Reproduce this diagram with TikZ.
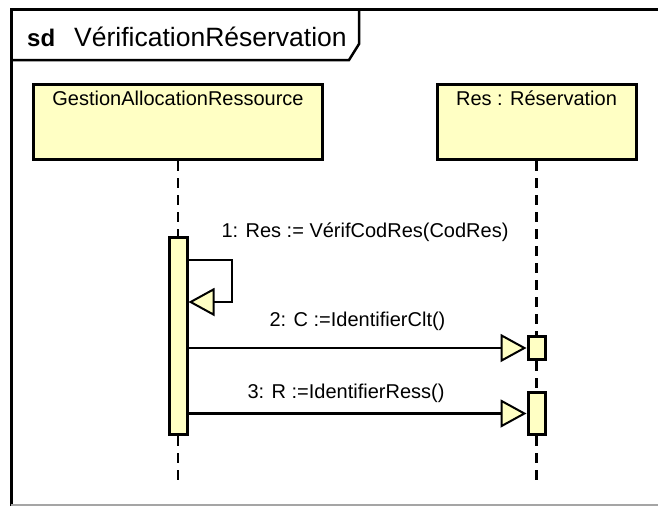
\documentclass[tikz,border=0pt]{standalone}
\usepackage{fontspec}
\setmainfont{Liberation Sans}
\usetikzlibrary{arrows.meta,positioning}
\definecolor{umlyellow}{RGB}{255,255,196}
\definecolor{framegray}{RGB}{165,165,165}

\begin{document}
\begin{tikzpicture}[
  x=1pt, y=-1pt,
  lifehead/.style={draw, line width=3pt, fill=umlyellow, minimum height=75pt, inner sep=0pt},
  activ/.style={draw, line width=3pt, fill=umlyellow, minimum width=18pt, inner sep=0pt},
  headtext/.style={anchor=base, inner sep=0pt, font=\fontsize{20}{24}\selectfont},
  msglabel/.style={anchor=base, inner sep=0pt, font=\fontsize{20}{24}\selectfont},
  lifeline/.style={line width=2.5pt, dash pattern=on 10pt off 7pt},
  msg/.style={line width=2.5pt, -{Triangle[fill=umlyellow, length=26pt, width=28pt, line width=2pt]}}
]
\useasboundingbox (0,0) rectangle (658,506);

% frame and tab
\draw[line width=3pt] (11,506) -- (11,9) -- (658,9);
\draw[line width=2.5pt] (359,9) -- (359,44) -- (349,60) -- (11,60);
\draw[framegray, line width=1.5pt] (11,505) -- (658,505);
\node[anchor=base west, inner sep=0pt, font=\bfseries\fontsize{24}{28}\selectfont] (sd) at (27,46) {sd};
\node[anchor=base west, inner sep=0pt, font=\fontsize{26.5}{30}\selectfont] (title) at (74,46) {VérificationRéservation};

% lifeline heads
\node[lifehead, minimum width=289pt] (gar) at (178,122) {};
\node[lifehead, minimum width=199pt] (res) at (536.5,122) {};
\node[headtext] (garText) at (178,105) {GestionAllocationRessource};
\node[headtext] (resText) at (536.5,105) {Res : Réservation};

% activations
\node[activ, minimum height=197pt] (actA) at (178,336) {};
\node[activ, minimum width=17pt, minimum height=23pt] (actB1) at (536.5,348) {};
\node[activ, minimum width=17pt, minimum height=42pt] (actB2) at (536.5,413.5) {};
\coordinate (garEnd) at (178,481);
\coordinate (resEnd) at (536.5,481);

% lifelines
\draw[lifeline, line width=2pt] (gar.south) -- (actA.north);
\draw[lifeline, line width=2pt] (actA.south) -- (garEnd);
\draw[lifeline, line width=3.5pt] (res.south) -- (actB1.north);
\draw[lifeline, line width=3.5pt] (actB1.south) -- (actB2.north);
\draw[lifeline, line width=3.5pt] (actB2.south) -- (resEnd);

% messages
\coordinate (selfOut) at (actA.east |- 0,260);
\coordinate (selfIn) at (actA.east |- 0,302);
\draw[msg] (selfOut) -- (232,260) |- (selfIn);
\draw[msg] (actB1.west -| actA.east) -- (actB1.west);
\draw[msg] (actB2.west -| actA.east) -- (actB2.west);

\node[msglabel] (m1) at (365,237) {1: Res := VérifCodRes(CodRes)};
\node[msglabel] (m2) at (357.5,326) {2: C :=IdentifierClt()};
\node[msglabel] (m3) at (346,398) {3: R :=IdentifierRess()};
\end{tikzpicture}
\end{document}
